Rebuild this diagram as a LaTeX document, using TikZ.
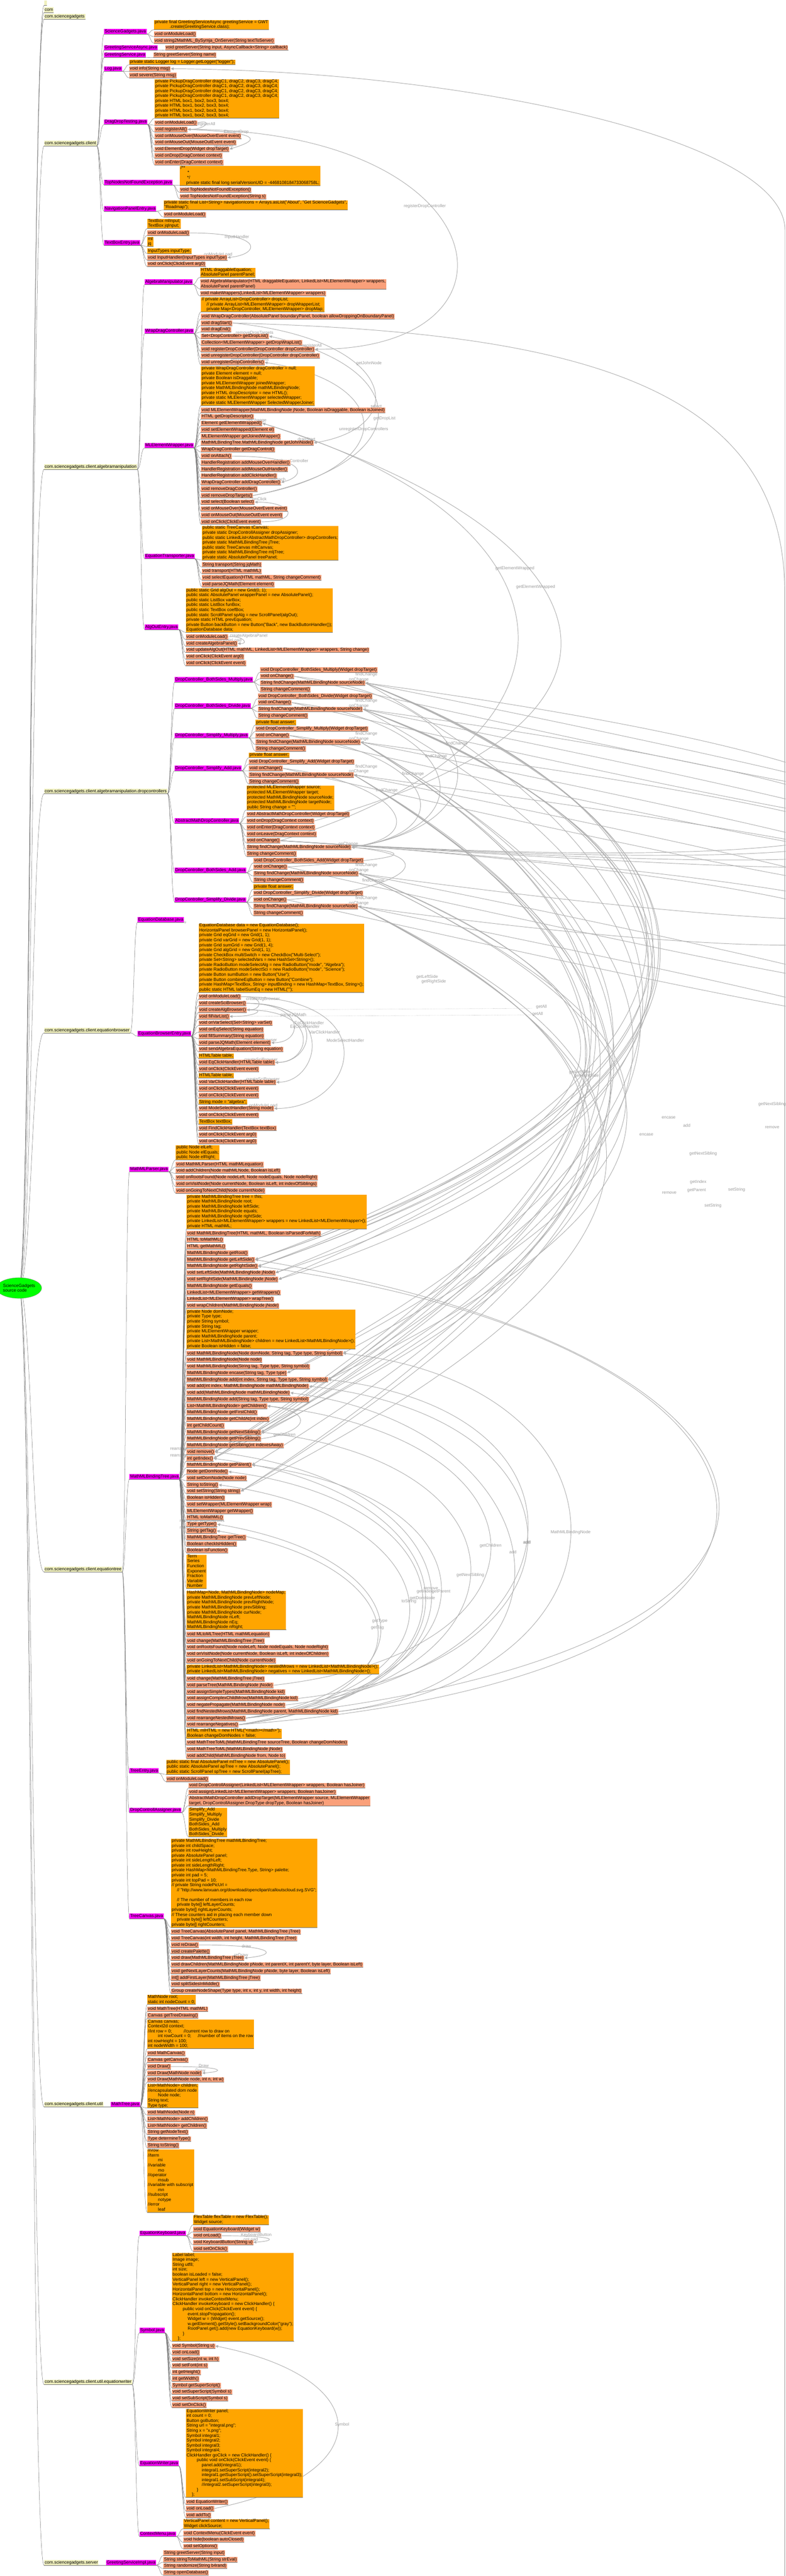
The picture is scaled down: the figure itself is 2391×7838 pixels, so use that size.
\documentclass[tikz,border=0pt]{standalone}
\usepackage{fontspec}
\setmainfont{Liberation Sans}
\usetikzlibrary{arrows.meta,shapes.geometric}
\pgfdeclarelayer{bglayer}
\pgfdeclarelayer{linklayer}
\pgfdeclarelayer{edgelayer}
\pgfsetlayers{bglayer,linklayer,edgelayer,main}
\definecolor{pkgc}{RGB}{240,240,190}
\definecolor{filec}{RGB}{255,0,255}
\definecolor{methc}{RGB}{250,160,122}
\definecolor{fldc}{RGB}{255,165,0}
\definecolor{rootc}{RGB}{0,255,0}
\definecolor{edgec}{RGB}{120,120,120}
\definecolor{linkc}{RGB}{175,175,175}
\definecolor{labc}{RGB}{155,155,155}
\newcommand{\St}{\rule[-4pt]{0pt}{15pt}}
\tikzset{
 base/.style={inner xsep=2pt, inner ysep=0pt, align=left, font=\fontsize{13.3}{15}\selectfont,
   execute at begin node=\St, execute at end node=\St,
   append after command={(\tikzlastnode.south west) edge[draw=black!55, line width=0.8pt] (\tikzlastnode.south east)}},
 pkg/.style={base, fill=pkgc, anchor=west},
 file/.style={base, fill=filec, anchor=west},
 meth/.style={base, fill=methc, anchor=north west},
 fld/.style={base, fill=fldc, anchor=north west},
 tedge/.style={draw=edgec, line width=0.8pt},
 xl/.style={draw=linkc, line width=1.5pt, -{Triangle[length=9pt,width=8pt]}},
 xln/.style={draw=linkc, line width=1.5pt},
 dotl/.style={draw=linkc, line width=1pt, dotted},
 xlab/.style={text=labc, inner sep=0pt, font=\fontsize{13}{15}\selectfont},
}
\makeatletter
\newcommand{\edgelist}{}
\newcommand{\addedge}[2]{\g@addto@macro\edgelist{\te{#1}{#2}}}
\newcommand{\addroot}[1]{\g@addto@macro\edgelist{\tr{#1}}}
\makeatother
\newcommand{\te}[2]{\draw[tedge] (#1.south east) .. controls +(11,0) and +(-11,0) .. (#2.south west);}
\newcommand{\tr}[1]{\draw[tedge] (root.center) .. controls +(38,0) and +(-38,0) .. (#1.south west);}
\newcommand{\pk}[3]{\node[pkg] (#1) at (134,#2) {#3}; \path (#1.east) ++(22,0) coordinate (#1X); \addroot{#1}}
\newcommand{\fl}[4]{\node[file] (#1) at (#2X |- 0,#3) {#4}; \path (#1.east) ++(22,0) coordinate (#1X); \addedge{#2}{#1}}
\newcommand{\me}[4]{\node[meth] (#1) at (#2X |- 0,#3) {#4}; \addedge{#2}{#1}}
\newcommand{\fd}[4]{\node[fld] (#1) at (#2X |- 0,#3) {#4}; \addedge{#2}{#1}}
\newcommand{\xl}[4]{\draw[xl] (#1.east) .. controls +(#3) and +(#4) .. (#2.east);}
\newcommand{\xm}[5]{\draw[xl] (#1.east) .. controls +(#3,-100) and +(#3,100) .. (#2.east) node[xlab,pos=0.5] (#5) {#4};}
\begin{document}
\begin{tikzpicture}[x=1pt,y=-1pt]
\useasboundingbox (0,0) rectangle (2391,7838);
\node[ellipse, fill=rootc, draw=black!45, line width=0.6pt, minimum width=112pt, minimum height=63pt, inner sep=0pt, align=left, font=\fontsize{13.3}{15}\selectfont] (root) at (58,3919) {ScienceGadgets\\source code};
% packages
\node[pkg, minimum width=8pt] (pa) at (134,9) {}; \addroot{pa}
\pk{pb}{30}{com}
\pk{pc}{50}{com.sciencegadgets}
\pk{pd}{436}{com.sciencegadgets.client}
\pk{pe}{1420}{com.sciencegadgets.client.algebramanipulation}
\pk{pf}{2407.5}{com.sciencegadgets.client.algebramanipulation.dropcontrollers}
\pk{pg}{3135}{com.sciencegadgets.client.equationbrowser}
\pk{ph}{4775}{com.sciencegadgets.client.equationtree}
\pk{pi}{6402.5}{com.sciencegadgets.client.util}
\pk{pj}{7247.5}{com.sciencegadgets.client.util.equationwriter}
\pk{pk}{7797.5}{com.sciencegadgets.server}
% client files
\fl{fsg}{pd}{96}{ScienceGadgets.java}
\fl{fgsa}{pd}{145}{GreetingServiceAsync.java}
\fl{fgs}{pd}{167}{GreetingService.java}
\fl{flog}{pd}{209}{Log.java}
\fl{fddt}{pd}{371}{DragDropTesting.java}
\fl{ftnn}{pd}{555}{TopNodesNotFoundException.java}
\fl{fnpe}{pd}{635}{NavigationPanelEntry.java}
\fl{ftbe}{pd}{738.5}{TextBoxEntry.java}
\fd{sga}{fsg}{61}{private final GreetingServiceAsync greetingService = GWT\\\hspace*{46pt}.create(GreetingService.class);}
\me{sgb}{fsg}{96}{void onModuleLoad()}
\me{sgc}{fsg}{116}{void string2MathML\_BySymja\_OnServer(String textToServer)}
\me{gsaa}{fgsa}{137.5}{void greetServer(String input, AsyncCallback<String> callback)}
\me{gsb}{fgs}{159.5}{String greetServer(String name)}
\fd{loga}{flog}{181.5}{private static Logger log = Logger.getLogger("logger");}
\me{logb}{flog}{201.5}{void info(String msg)}
\me{logc}{flog}{221.5}{void severe(String msg)}
\fd{ddta}{fddt}{241}{private PickupDragController dragC1, dragC2, dragC3, dragC4;\\private PickupDragController dragC1, dragC2, dragC3, dragC4;\\private PickupDragController dragC1, dragC2, dragC3, dragC4;\\private PickupDragController dragC1, dragC2, dragC3, dragC4;\\private HTML box1, box2, box3, box4;\\private HTML box1, box2, box3, box4;\\private HTML box1, box2, box3, box4;\\private HTML box1, box2, box3, box4;}
\me{ddtb}{fddt}{366}{void onModuleLoad()}
\me{ddtc}{fddt}{386}{void registerAll()}
\me{ddtd}{fddt}{406}{void onMouseOver(MouseOverEvent event)}
\me{ddte}{fddt}{426}{void onMouseOut(MouseOutEvent event)}
\me{ddtf}{fddt}{446}{void ElementDrop(Widget dropTarget)}
\me{ddtg}{fddt}{466}{void onDrop(DragContext context)}
\me{ddth}{fddt}{486}{void onEnter(DragContext context)}
\fd{tnna}{ftnn}{505}{/**\\\hspace*{21pt}*\\\hspace*{20pt}*/\\\hspace*{17pt}private static final long serialVersionUID = -4468108184733068758L;}
\me{tnnb}{ftnn}{570}{void TopNodesNotFoundException()}
\me{tnnc}{ftnn}{590}{void TopNodesNotFoundException(String s)}
\fd{npea}{fnpe}{610}{private static final List<String> navigationIcons = Arrays.asList("About", "Get ScienceGadgets",\\"Roadmap");}
\me{npeb}{fnpe}{645}{void onModuleLoad()}
\fd{tbea}{ftbe}{666}{TextBox mlInput;\\TextBox jqInput;}
\me{tbeb}{ftbe}{701}{void onModuleLoad()}
\fd{tbec}{ftbe}{721}{ml\\jq}
\fd{tbed}{ftbe}{756}{InputTypes inputType;}
\me{tbee}{ftbe}{776}{void InputHandler(InputTypes inputType)}
\me{tbef}{ftbe}{796}{void onClick(ClickEvent arg0)}
% algebramanipulation
\fl{fam}{pe}{857.5}{AlgebraManipulator.java}
\fl{fwdc}{pe}{1007.5}{WrapDragController.java}
\fl{fmlw}{pe}{1355}{MLElementWrapper.java}
\fl{fet}{pe}{1692.5}{EquationTransporter.java}
\fl{faoe}{pe}{1907.5}{AlgOutEntry.java}
\fd{ama}{fam}{815}{HTML draggableEquation;\\AbsolutePanel parentPanel;}
\me{amb}{fam}{850}{void AlgebraManipulator(HTML draggableEquation, LinkedList<MLElementWrapper> wrappers,\\AbsolutePanel parentPanel)}
\me{amc}{fam}{885}{void makeWrappers(LinkedList<MLElementWrapper> wrappers)}
\fd{wdca}{fwdc}{905}{// private ArrayList<DropController> dropList;\\\hspace*{15pt}// private ArrayList<MLElementWrapper> dropWrapperList;\\\hspace*{15pt}private Map<DropController, MLElementWrapper> dropMap;}
\me{wdcb}{fwdc}{955}{void WrapDragController(AbsolutePanel boundaryPanel, boolean allowDroppingOnBoundaryPanel)}
\me{wdcc}{fwdc}{975}{void dragStart()}
\me{wdcd}{fwdc}{995}{void dragEnd()}
\me{wdce}{fwdc}{1015}{Set<DropController> getDropList()}
\me{wdcf}{fwdc}{1035}{Collection<MLElementWrapper> getDropWrapList()}
\me{wdcg}{fwdc}{1055}{void registerDropController(DropController dropController)}
\me{wdch}{fwdc}{1075}{void unregisterDropController(DropController dropController)}
\me{wdci}{fwdc}{1095}{void unregisterDropControllers()}
\fd{mlwa}{fmlw}{1115}{private WrapDragController dragController = null;\\private Element element = null;\\private Boolean isDraggable;\\private MLElementWrapper joinedWrapper;\\private MathMLBindingNode mathMLBindingNode;\\private HTML dropDescriptor = new HTML();\\private static MLElementWrapper selectedWrapper;\\private static MLElementWrapper SelectedWrapperJoiner;}
\me{mlw1}{fmlw}{1240}{void MLElementWrapper(MathMLBindingNode jNode, Boolean isDraggable, Boolean isJoined)}
\me{mlw2}{fmlw}{1260}{HTML getDropDescriptor()}
\me{mlw3}{fmlw}{1280}{Element getElementWrapped()}
\me{mlw4}{fmlw}{1300}{void setElementWrapped(Element el)}
\me{mlw5}{fmlw}{1320}{MLElementWrapper getJoinedWrapper()}
\me{mlw6}{fmlw}{1340}{MathMLBindingTree.MathMLBindingNode getJohnNode()}
\me{mlw7}{fmlw}{1360}{WrapDragController getDragControl()}
\me{mlw8}{fmlw}{1380}{void onAttach()}
\me{mlw9}{fmlw}{1400}{HandlerRegistration addMouseOverHandler()}
\me{mlw10}{fmlw}{1420}{HandlerRegistration addMouseOutHandler()}
\me{mlw11}{fmlw}{1440}{HandlerRegistration addClickHandler()}
\me{mlw12}{fmlw}{1460}{WrapDragController addDragController()}
\me{mlw13}{fmlw}{1480}{void removeDragController()}
\me{mlw14}{fmlw}{1500}{void removeDropTargets()}
\me{mlw15}{fmlw}{1520}{void select(Boolean select)}
\me{mlw16}{fmlw}{1540}{void onMouseOver(MouseOverEvent event)}
\me{mlw17}{fmlw}{1560}{void onMouseOut(MouseOutEvent event)}
\me{mlw18}{fmlw}{1580}{void onClick(ClickEvent event)}
\fd{eta}{fet}{1600}{public static TreeCanvas tCanvas;\\private static DropControllAssigner dropAssigner;\\public static LinkedList<AbstractMathDropController> dropControllers;\\private static MathMLBindingTree jTree;\\public static TreeCanvas mltCanvas;\\private static MathMLBindingTree mljTree;\\private static AbsolutePanel treePanel;}
\me{etb}{fet}{1710}{String transport(String jqMath)}
\me{etc}{fet}{1730}{void transport(HTML mathML)}
\me{etd}{fet}{1750}{void selectEquation(HTML mathML, String changeComment)}
\me{ete}{fet}{1770}{void parseJQMath(Element element)}
\fd{aoea}{faoe}{1790}{public static Grid algOut = new Grid(0, 1);\\public static AbsolutePanel wrapperPanel = new AbsolutePanel();\\public static ListBox varBox;\\public static ListBox funBox;\\public static TextBox coefBox;\\public static ScrollPanel spAlg = new ScrollPanel(algOut);\\private static HTML prevEquation;\\private Button backButton = new Button("Back", new BackButtonHandler());\\EquationDatabase data;}
\me{aoeb}{faoe}{1930}{void onModuleLoad()}
\me{aoec}{faoe}{1950}{void createAlgebraPanel()}
\me{aoed}{faoe}{1970}{void updateAlgOut(HTML mathML, LinkedList<MLElementWrapper> wrappers, String change)}
\me{aoee}{faoe}{1990}{void onClick(ClickEvent arg0)}
\me{aoef}{faoe}{2010}{void onClick(ClickEvent event)}
% dropcontrollers
\fl{fbsm}{pf}{2067.5}{DropController\_BothSides\_Multiply.java}
\fl{fbsd}{pf}{2147.5}{DropController\_BothSides\_Divide.java}
\fl{fsm}{pf}{2237.5}{DropController\_Simplify\_Multiply.java}
\fl{fsa}{pf}{2337.5}{DropController\_Simplify\_Add.java}
\fl{famd}{pf}{2497.5}{AbstractMathDropController.java}
\fl{fbsa}{pf}{2647.5}{DropController\_BothSides\_Add.java}
\fl{fsd}{pf}{2737.5}{DropController\_Simplify\_Divide.java}
\me{bsmc}{fbsm}{2030}{void DropController\_BothSides\_Multiply(Widget dropTarget)}
\me{bsmo}{fbsm}{2050}{void onChange()}
\me{bsmf}{fbsm}{2070}{String findChange(MathMLBindingNode sourceNode)}
\me{bsmm}{fbsm}{2090}{String changeComment()}
\me{bsdc}{fbsd}{2110}{void DropController\_BothSides\_Divide(Widget dropTarget)}
\me{bsdo}{fbsd}{2130}{void onChange()}
\me{bsdf}{fbsd}{2150}{String findChange(MathMLBindingNode sourceNode)}
\me{bsdm}{fbsd}{2170}{String changeComment()}
\fd{sma}{fsm}{2190}{private float answer;}
\me{smc}{fsm}{2210}{void DropController\_Simplify\_Multiply(Widget dropTarget)}
\me{smo}{fsm}{2230}{void onChange()}
\me{smf}{fsm}{2250}{String findChange(MathMLBindingNode sourceNode)}
\me{smm}{fsm}{2270}{String changeComment()}
\fd{saa}{fsa}{2290}{private float answer;}
\me{sac}{fsa}{2310}{void DropController\_Simplify\_Add(Widget dropTarget)}
\me{sao}{fsa}{2330}{void onChange()}
\me{saf}{fsa}{2350}{String findChange(MathMLBindingNode sourceNode)}
\me{sam}{fsa}{2370}{String changeComment()}
\fd{amda}{famd}{2390}{protected MLElementWrapper source;\\protected MLElementWrapper target;\\protected MathMLBindingNode sourceNode;\\protected MathMLBindingNode targetNode;\\public String change = "";}
\me{amdc}{famd}{2470}{void AbstractMathDropController(Widget dropTarget)}
\me{amdd}{famd}{2490}{void onDrop(DragContext context)}
\me{amde}{famd}{2510}{void onEnter(DragContext context)}
\me{amdl}{famd}{2530}{void onLeave(DragContext context)}
\me{amdo}{famd}{2550}{void onChange()}
\me{amdf}{famd}{2570}{String findChange(MathMLBindingNode sourceNode)}
\me{amdm}{famd}{2590}{String changeComment()}
\me{bsac}{fbsa}{2610}{void DropController\_BothSides\_Add(Widget dropTarget)}
\me{bsao}{fbsa}{2630}{void onChange()}
\me{bsaf}{fbsa}{2650}{String findChange(MathMLBindingNode sourceNode)}
\me{bsam}{fbsa}{2670}{String changeComment()}
\fd{sda}{fsd}{2690}{private float answer;}
\me{sdc}{fsd}{2710}{void DropController\_Simplify\_Divide(Widget dropTarget)}
\me{sdo}{fsd}{2730}{void onChange()}
\me{sdf}{fsd}{2750}{String findChange(MathMLBindingNode sourceNode)}
\me{sdm}{fsd}{2770}{String changeComment()}
% equationbrowser
\fl{fedb}{pg}{2798}{EquationDatabase.java}
\node[circle, draw=black!55, fill=white, inner sep=0pt, minimum size=6pt] (fold) at ([xshift=3pt]fedb.south east) {};
\fl{febe}{pg}{3145}{EquationBrowserEntry.java}
\fd{ebea}{febe}{2810}{EquationDatabase data = new EquationDatabase();\\HorizontalPanel browserPanel = new HorizontalPanel();\\private Grid eqGrid = new Grid(1, 1);\\private Grid varGrid = new Grid(1, 1);\\private Grid sumGrid = new Grid(1, 4);\\private Grid algGrid = new Grid(1, 1);\\private CheckBox multiSwitch = new CheckBox("Multi-Select");\\private Set<String> selectedVars = new HashSet<String>();\\private RadioButton modeSelectAlg = new RadioButton("mode", "Algebra");\\private RadioButton modeSelectSci = new RadioButton("mode", "Science");\\private Button sumButton = new Button("Use");\\private Button combineEqButton = new Button("Combine");\\private HashMap<TextBox, String> inputBinding = new HashMap<TextBox, String>();\\public static HTML labelSumEq = new HTML("");}
\me{ebe1}{febe}{3025}{void onModuleLoad()}
\me{ebe2}{febe}{3045}{void createSciBrowser()}
\me{ebe3}{febe}{3065}{void createAlgBrowser()}
\me{ebe4}{febe}{3085}{void fillVarList()}
\me{ebe5}{febe}{3105}{void onVarSelect(Set<String> varSet)}
\me{ebe6}{febe}{3125}{void onEqSelect(String equation)}
\me{ebe7}{febe}{3145}{void fillSummary(String equation)}
\me{ebe8}{febe}{3165}{void parseJQMath(Element element)}
\me{ebe9}{febe}{3185}{void sendAlgebraEquation(String equation)}
\fd{ebe10}{febe}{3205}{HTMLTable table;}
\me{ebe11}{febe}{3225}{void EqClickHandler(HTMLTable table)}
\me{ebe12}{febe}{3245}{void onClick(ClickEvent event)}
\fd{ebe13}{febe}{3265}{HTMLTable table;}
\me{ebe14}{febe}{3285}{void VarClickHandler(HTMLTable table)}
\me{ebe15}{febe}{3305}{void onClick(ClickEvent event)}
\me{ebe16}{febe}{3325}{void onClick(ClickEvent event)}
\fd{ebe17}{febe}{3345}{String mode = "algebra";}
\me{ebe18}{febe}{3365}{void ModeSelectHandler(String mode)}
\me{ebe19}{febe}{3385}{void onClick(ClickEvent event)}
\fd{ebe20}{febe}{3405}{TextBox textBox;}
\me{ebe21}{febe}{3425}{void FindClickHandler(TextBox textBox)}
\me{ebe22}{febe}{3445}{void onClick(ClickEvent arg0)}
\me{ebe23}{febe}{3465}{void onClick(ClickEvent arg0)}
% equationtree
\fl{fmp}{ph}{3557.5}{MathMLParser.java}
\fl{fmbt}{ph}{4492.5}{MathMLBindingTree.java}
\fl{fte}{ph}{5387.5}{TreeEntry.java}
\fl{fdca}{ph}{5507.5}{DropControllAssigner.java}
\fl{ftc}{ph}{5830}{TreeCanvas.java}
\fd{mpa}{fmp}{3485}{public Node elLeft;\\public Node elEquals;\\public Node elRight;}
\me{mpb}{fmp}{3535}{void MathMLParser(HTML mathMLequation)}
\me{mpc}{fmp}{3555}{void addChildren(Node mathMLNode, Boolean isLeft)}
\me{mpd}{fmp}{3575}{void onRootsFound(Node nodeLeft, Node nodeEquals, Node nodeRight)}
\me{mpe}{fmp}{3595}{void onVisitNode(Node currentNode, Boolean isLeft, int indexOfSiblings)}
\me{mpf}{fmp}{3615}{void onGoingToNextChild(Node currentNode)}
\fd{ta}{fmbt}{3635}{private MathMLBindingTree tree = this;\\private MathMLBindingNode root;\\private MathMLBindingNode leftSide;\\private MathMLBindingNode equals;\\private MathMLBindingNode rightSide;\\private LinkedList<MLElementWrapper> wrappers = new LinkedList<MLElementWrapper>();\\private HTML mathML;}
\me{t1}{fmbt}{3745}{void MathMLBindingTree(HTML mathML, Boolean isParsedForMath)}
\me{t2}{fmbt}{3765}{HTML toMathML()}
\me{t3}{fmbt}{3785}{HTML getMathML()}
\me{t4}{fmbt}{3805}{MathMLBindingNode getRoot()}
\me{t5}{fmbt}{3825}{MathMLBindingNode getLeftSide()}
\me{t6}{fmbt}{3845}{MathMLBindingNode getRightSide()}
\me{t7}{fmbt}{3865}{void setLeftSide(MathMLBindingNode jNode)}
\me{t8}{fmbt}{3885}{void setRightSide(MathMLBindingNode jNode)}
\me{t9}{fmbt}{3905}{MathMLBindingNode getEquals()}
\me{t10}{fmbt}{3925}{LinkedList<MLElementWrapper> getWrappers()}
\me{t11}{fmbt}{3945}{LinkedList<MLElementWrapper> wrapTree()}
\me{t12}{fmbt}{3965}{void wrapChildren(MathMLBindingNode jNode)}
\fd{na}{fmbt}{3985}{private Node domNode;\\private Type type;\\private String symbol;\\private String tag;\\private MLElementWrapper wrapper;\\private MathMLBindingNode parent;\\private List<MathMLBindingNode> children = new LinkedList<MathMLBindingNode>();\\private Boolean isHidden = false;}
\me{n1}{fmbt}{4110}{void MathMLBindingNode(Node domNode, String tag, Type type, String symbol)}
\me{n2}{fmbt}{4130}{void MathMLBindingNode(Node node)}
\me{n3}{fmbt}{4150}{void MathMLBindingNode(String tag, Type type, String symbol)}
\me{n4}{fmbt}{4170}{MathMLBindingNode encase(String tag, Type type)}
\me{n5}{fmbt}{4190}{MathMLBindingNode add(int index, String tag, Type type, String symbol)}
\me{n6}{fmbt}{4210}{void add(int index, MathMLBindingNode mathMLBindingNode)}
\me{n7}{fmbt}{4230}{void add(MathMLBindingNode mathMLBindingNode)}
\me{n8}{fmbt}{4250}{MathMLBindingNode add(String tag, Type type, String symbol)}
\me{n9}{fmbt}{4270}{List<MathMLBindingNode> getChildren()}
\me{n10}{fmbt}{4290}{MathMLBindingNode getFirstChild()}
\me{n11}{fmbt}{4310}{MathMLBindingNode getChildAt(int index)}
\me{n12}{fmbt}{4330}{int getChildCount()}
\me{n13}{fmbt}{4350}{MathMLBindingNode getNextSibling()}
\me{n14}{fmbt}{4370}{MathMLBindingNode getPrevSibling()}
\me{n15}{fmbt}{4390}{MathMLBindingNode getSibling(int indexesAway)}
\me{n16}{fmbt}{4410}{void remove()}
\me{n17}{fmbt}{4430}{int getIndex()}
\me{n18}{fmbt}{4450}{MathMLBindingNode getParent()}
\me{n19}{fmbt}{4470}{Node getDomNode()}
\me{n20}{fmbt}{4490}{void setDomNode(Node node)}
\me{n21}{fmbt}{4510}{String toString()}
\me{n22}{fmbt}{4530}{void setString(String string)}
\me{n23}{fmbt}{4550}{Boolean isHidden()}
\me{n24}{fmbt}{4570}{void setWrapper(MLElementWrapper wrap)}
\me{n25}{fmbt}{4590}{MLElementWrapper getWrapper()}
\me{n26}{fmbt}{4610}{HTML toMathML()}
\me{n27}{fmbt}{4630}{Type getType()}
\me{n28}{fmbt}{4650}{String getTag()}
\me{n29}{fmbt}{4670}{MathMLBindingTree getTree()}
\me{n30}{fmbt}{4690}{Boolean checkIsHidden()}
\me{n31}{fmbt}{4710}{Boolean isFunction()}
\fd{ea}{fmbt}{4730}{Term\\Series\\Function\\Exponent\\Fraction\\Variable\\Number}
\fd{ha}{fmbt}{4840}{HashMap<Node, MathMLBindingNode> nodeMap;\\private MathMLBindingNode prevLeftNode;\\private MathMLBindingNode prevRightNode;\\private MathMLBindingNode prevSibling;\\private MathMLBindingNode curNode;\\MathMLBindingNode nLeft;\\MathMLBindingNode nEq;\\MathMLBindingNode nRight;}
\me{h1}{fmbt}{4965}{void MLtoMLTree(HTML mathMLequation)}
\me{h2}{fmbt}{4985}{void change(MathMLBindingTree jTree)}
\me{h3}{fmbt}{5005}{void onRootsFound(Node nodeLeft, Node nodeEquals, Node nodeRight)}
\me{h4}{fmbt}{5025}{void onVisitNode(Node currentNode, Boolean isLeft, int indexOfChildren)}
\me{h5}{fmbt}{5045}{void onGoingToNextChild(Node currentNode)}
\fd{ra}{fmbt}{5065}{private LinkedList<MathMLBindingNode> nestedMrows = new LinkedList<MathMLBindingNode>();\\private LinkedList<MathMLBindingNode> negatives = new LinkedList<MathMLBindingNode>();}
\me{r1}{fmbt}{5100}{void change(MathMLBindingTree jTree)}
\me{r2}{fmbt}{5120}{void parseTree(MathMLBindingNode jNode)}
\me{r3}{fmbt}{5140}{void assignSimpleTypes(MathMLBindingNode kid)}
\me{r4}{fmbt}{5160}{void assignComplexChildMrow(MathMLBindingNode kid)}
\me{r5}{fmbt}{5180}{void negatePropagate(MathMLBindingNode node)}
\me{r6}{fmbt}{5200}{void findNestedMrows(MathMLBindingNode parent, MathMLBindingNode kid)}
\me{r7}{fmbt}{5220}{void rearrangeNestedMrows()}
\me{r8}{fmbt}{5240}{void rearrangeNegatives()}
\fd{ma}{fmbt}{5260}{HTML mlHTML = new HTML("<math></math>");\\Boolean changeDomNodes = false;}
\me{m1}{fmbt}{5295}{void MathTreeToML(MathMLBindingTree sourceTree, Boolean changeDomNodes)}
\me{m2}{fmbt}{5315}{void MathTreeToML(MathMLBindingNode jNode)}
\me{m3}{fmbt}{5335}{void addChild(MathMLBindingNode from, Node to)}
\fd{tea}{fte}{5355}{public static final AbsolutePanel mlTree = new AbsolutePanel();\\public static AbsolutePanel apTree = new AbsolutePanel();\\public static ScrollPanel spTree = new ScrollPanel(apTree);}
\me{teb}{fte}{5405}{void onModuleLoad()}
\me{dcab}{fdca}{5425}{void DropControllAssigner(LinkedList<MLElementWrapper> wrappers, Boolean hasJoiner)}
\me{dcac}{fdca}{5445}{void assign(LinkedList<MLElementWrapper> wrappers, Boolean hasJoiner)}
\me{dcad}{fdca}{5465}{AbstractMathDropController addDropTarget(MLElementWrapper source, MLElementWrapper\\target, DropControllAssigner.DropType dropType, Boolean hasJoiner)}
\fd{dcae}{fdca}{5500}{Simplify\_Add\\Simplify\_Multiply\\Simplify\_Divide\\BothSides\_Add\\BothSides\_Multiply\\BothSides\_Divide}
\fd{tca}{ftc}{5595}{private MathMLBindingTree mathMLBindingTree;\\private int childSpace;\\private int rowHeight;\\private AbsolutePanel panel;\\private int sideLengthLeft;\\private int sideLengthRight;\\private HashMap<MathMLBindingTree.Type, String> palette;\\private int pad = 5;\\private int topPad = 10;\\// private String nodePicUrl =\\\hspace*{16pt}// "http://www.lanxuan.org/download/openclipart/calloutscloud.svg.SVG";\\\mbox{}\\\hspace*{16pt}// The number of members in each row\\\hspace*{16pt}private byte[] leftLayerCounts;\\private byte[] rightLayerCounts;\\// These counters aid in placing each member down\\\hspace*{16pt}private byte[] leftCounters;\\private byte[] rightCounters;}
\me{tc1}{ftc}{5870}{void TreeCanvas(AbsolutePanel panel, MathMLBindingTree jTree)}
\me{tc2}{ftc}{5890}{void TreeCanvas(int width, int height, MathMLBindingTree jTree)}
\me{tc3}{ftc}{5910}{void reDraw()}
\me{tc4}{ftc}{5930}{void createPalette()}
\me{tc5}{ftc}{5950}{void draw(MathMLBindingTree jTree)}
\me{tc6}{ftc}{5970}{void drawChildren(MathMLBindingNode pNode, int parentX, int parentY, byte layer, Boolean isLeft)}
\me{tc7}{ftc}{5990}{void getNextLayerCounts(MathMLBindingNode pNode, byte layer, Boolean isLeft)}
\me{tc8}{ftc}{6010}{int[] addFirstLayer(MathMLBindingTree jTree)}
\me{tc9}{ftc}{6030}{void splitSidesInMiddle()}
\me{tc10}{ftc}{6050}{Group createNodeShape(Type type, int x, int y, int width, int height)}
% util
\fl{fmt}{pi}{6402.5}{MathTree.java}
\fd{mta}{fmt}{6070}{MathNode root;\\static int nodeCount = 0;}
\me{mtb}{fmt}{6105}{void MathTree(HTML mathML)}
\me{mtc}{fmt}{6125}{Canvas getTreeDrawing()}
\fd{mtd}{fmt}{6145}{Canvas canvas;\\Context2d context;\\//int row = 0;\hspace*{36pt}//current row to draw on\\\hspace*{31pt}int rowCount = 0;\hspace*{20pt}//number of items on the row\\int rowHeight = 100;\\int nodeWidth = 100;}
\me{mte}{fmt}{6240}{void MathCanvas()}
\me{mtf}{fmt}{6260}{Canvas getCanvas()}
\me{mtg}{fmt}{6280}{void Draw()}
\me{mth}{fmt}{6300}{void Draw(MathNode node)}
\me{mti}{fmt}{6320}{void Draw(MathNode node, int n, int w)}
\fd{mtj}{fmt}{6340}{List<MathNode> children;\\//encapsulated dom node\\\hspace*{31pt}Node node;\\String text;\\Type type;}
\me{mtk}{fmt}{6420}{void MathNode(Node n)}
\me{mtl}{fmt}{6440}{List<MathNode> addChildren()}
\me{mtm}{fmt}{6460}{List<MathNode> getChildren()}
\me{mtn}{fmt}{6480}{String getNodeText()}
\me{mto}{fmt}{6500}{Type determineType()}
\me{mtp}{fmt}{6520}{String toString()}
\fd{mtq}{fmt}{6540}{mrow\\//term\\\hspace*{31pt}mi\\//variable\\\hspace*{31pt}mo\\//operator\\\hspace*{31pt}msub\\//variable with subscript\\\hspace*{31pt}mn\\//subscript\\\hspace*{31pt}notype\\//error\\\hspace*{31pt}leaf}
% equationwriter
\fl{fek}{pj}{6795}{EquationKeyboard.java}
\fl{fsy}{pj}{7090}{Symbol.java}
\fl{few}{pj}{7495}{EquationWriter.java}
\fl{fcm}{pj}{7710}{ContextMenu.java}
\fd{eka}{fek}{6740}{FlexTable flexTable = new FlexTable();\\Widget source;}
\me{ekb}{fek}{6775}{void EquationKeyboard(Widget w)}
\me{ekc}{fek}{6795}{void onLoad()}
\me{ekd}{fek}{6815}{void KeyboardButton(String u)}
\me{eke}{fek}{6835}{void setOnClick()}
\fd{sya}{fsy}{6855}{Label label;\\Image image;\\String utf8;\\int size;\\boolean isLoaded = false;\\VerticalPanel left = new VerticalPanel();\\VerticalPanel right = new VerticalPanel();\\HorizontalPanel top = new HorizontalPanel();\\HorizontalPanel bottom = new HorizontalPanel();\\ClickHandler invokeContextMenu;\\ClickHandler invokeKeyboard = new ClickHandler() \{\\\hspace*{31pt}public void onClick(ClickEvent event) \{\\\hspace*{46pt}event.stopPropagation();\\\hspace*{46pt}Widget w = (Widget) event.getSource();\\\hspace*{46pt}w.getElement().getStyle().setBackgroundColor("gray");\\\hspace*{46pt}RootPanel.get().add(new EquationKeyboard(w));\\\hspace*{31pt}\}\\\hspace*{16pt}\};}
\me{syb}{fsy}{7130}{void Symbol(String u)}
\me{syc}{fsy}{7150}{void onLoad()}
\me{syd}{fsy}{7170}{void setSize(int w, int h)}
\me{sye}{fsy}{7190}{void setFont(int s)}
\me{syf}{fsy}{7210}{int getHeight()}
\me{syg}{fsy}{7230}{int getWidth()}
\me{syh}{fsy}{7250}{Symbol getSuperScript()}
\me{syi}{fsy}{7270}{void setSuperScript(Symbol s)}
\me{syj}{fsy}{7290}{void setSubScript(Symbol s)}
\me{syk}{fsy}{7310}{void setOnClick()}
\fd{ewa}{few}{7330}{EquationWriter panel;\\int count = 0;\\Button goButton;\\String url = "integral.png";\\String x = "x.png";\\Symbol integral1;\\Symbol integral2;\\Symbol integral3;\\Symbol integral4;\\ClickHandler goClick = new ClickHandler() \{\\\hspace*{31pt}public void onClick(ClickEvent event) \{\\\hspace*{46pt}panel.add(integral1);\\\hspace*{46pt}integral1.setSuperScript(integral2);\\\hspace*{46pt}integral1.getSuperScript().setSuperScript(integral3);\\\hspace*{46pt}integral1.setSubScript(integral4);\\\hspace*{46pt}//integral2.setSuperScript(integral3);\\\hspace*{31pt}\}\\\hspace*{16pt}\};}
\me{ewb}{few}{7605}{void EquationWriter()}
\me{ewc}{few}{7625}{void onLoad()}
\me{ewd}{few}{7645}{void addTo()}
\fd{cma}{fcm}{7665}{VerticalPanel content = new VerticalPanel();\\Widget clickSource;}
\me{cmb}{fcm}{7700}{void ContextMenu(ClickEvent event)}
\me{cmc}{fcm}{7720}{void hide(boolean autoClosed)}
\me{cmd}{fcm}{7740}{void setOptions()}
% server
\fl{fgsi}{pk}{7797.5}{GreetingServiceImpl.java}
\me{gsia}{fgsi}{7760}{String greetServer(String input)}
\me{gsib}{fgsi}{7780}{String stringToMathML(String strEval)}
\me{gsic}{fgsi}{7800}{String randomize(String b4rand)}
\me{gsid}{fgsi}{7820}{String openDatabase()}
% ===== background, tree edges =====
\begin{pgfonlayer}{bglayer}\fill[white] (0,0) rectangle (2391,7838);\end{pgfonlayer}
\begin{pgfonlayer}{edgelayer}\edgelist\end{pgfonlayer}
% ===== cross links =====
\begin{pgfonlayer}{linklayer}
\clip (0,0) rectangle (2391,7838);
\coordinate (offA) at (2389,7950);
\coordinate (offB) at (2388,7950);
\draw[xl] (offA) -- (2389,700) .. controls (2389,420) and (1400,215) .. (logb.east);
\draw[xln] (wdcc.east) .. controls (1700,1010) and (2388,1150) .. (2388,1800) -- (offB);
\xl{ddtb}{ddtc}{50,-12}{55,0}
\node[xlab] (lb1) at (626,378) {registerAll};
\xl{ddtc}{ddtf}{220,10}{100,-30}
\node[xlab] (lb2) at (719,402) {ElementDrop};
\node[xlab] (lb3) at (681,444) {registerAll};
\xl{ddtc}{wdcg}{950,0}{680,0}
\node[xlab] (lb4) at (1293,627) {registerDropController};
\node[xlab] (lb5) at (950,1053) {registerAll};
\xl{tbeb}{tbee}{230,0}{100,-10}
\node[xlab] (lb6) at (721,721) {InputHandler};
\node[xlab] (lb7) at (664,773) {onModuleLoad};
\xl{aoeb}{aoec}{45,-5}{35,2}
\node[xlab] (lb8) at (757,1935) {createAlgebraPanel};
\node[xlab] (lb9) at (692,1948) {onModuleLoad};
\xl{wdcc}{mlw6}{500,50}{300,-50}
\node[xlab] (lb10) at (1123,1105) {getJohnNode};
\node[xlab] (lb11) at (933,1338) {dragStart};
\xl{mlw14}{wdce}{500,-100}{450,100}
\node[xlab] (lb12) at (1170,1273) {getDropList};
\node[xlab] (lb13) at (775,1013) {removeDropTargets};
\xl{mlw14}{wdci}{450,-80}{400,60}
\node[xlab] (lb14) at (1107,1307) {unregisterDropControllers};
\node[xlab] (lb15) at (761,1095) {removeDropTargets};
\xl{mlw8}{mlw12}{230,0}{80,-20}
\node[xlab] (lb16) at (885,1403) {addDragController};
\node[xlab] (lb17) at (843,1458) {onAttach};
\xl{mlw18}{mlw15}{120,0}{120,0}
\node[xlab] (lb18) at (790,1519) {onClick};
\node[xlab] (lb18b) at (1145,1236) {select};
\xl{amdo}{mlw3}{1000,-300}{1000,300}
\node[xlab] (lb19) at (1567,1729) {getElementWrapped};
\node[xlab] (lb20) at (781,1279) {onChange};
\xl{amdd}{mlw3}{1100,-300}{1100,350}
\node[xlab] (lb21) at (1630,1786) {getElementWrapped};
% dropcontroller loops
\xl{bsmo}{bsmf}{2200,500}{2100,420}
\xl{bsdo}{bsdf}{2200,500}{2100,420}
\xl{smo}{smf}{2200,500}{2100,420}
\xl{sao}{saf}{2200,500}{2100,420}
\xl{bsao}{bsaf}{2200,500}{2100,420}
\xl{sdo}{sdf}{2200,500}{2100,420}
\node[xlab] (lc1) at (1115,2053) {findChange};
\node[xlab] (lc2) at (1115,2133) {findChange};
\node[xlab] (lc3) at (1115,2233) {findChange};
\node[xlab] (lc4) at (1115,2333) {findChange};
\node[xlab] (lc5) at (1115,2633) {findChange};
\node[xlab] (lc6) at (1115,2733) {findChange};
\node[xlab] (ld1) at (1092,2068) {onChange};
\node[xlab] (ld2) at (1092,2148) {onChange};
\node[xlab] (ld3) at (1092,2248) {onChange};
\node[xlab] (ld4) at (1092,2348) {onChange};
\node[xlab] (ld5) at (1092,2648) {onChange};
\node[xlab] (ld6) at (1092,2748) {onChange};
\node[xlab] (ld7) at (1060,2568) {onChange};
\xl{bsmo}{amdf}{600,70}{480,-70}
\xl{bsdo}{amdf}{520,60}{420,-60}
\xl{smo}{amdf}{430,50}{350,-50}
\xl{sao}{amdf}{330,40}{260,-40}
\xl{bsao}{amdf}{300,-20}{250,20}
\xl{sdo}{amdf}{350,-30}{300,30}
\node[xlab] (le1) at (1390,2263) {findChange};
\node[xlab] (le2) at (1327,2301) {findChange};
\node[xlab] (le3) at (1257,2355) {findChange};
\node[xlab] (le4) at (1177,2406) {findChange};
\node[xlab] (le5) at (1136,2680) {findChange};
\xl{amdo}{bsmf}{2300,150}{2200,300}
\xl{amdo}{bsdf}{2300,150}{2200,300}
\xl{amdo}{smf}{2300,150}{2200,300}
\xl{amdo}{saf}{2300,150}{2200,300}
\xl{amdo}{bsaf}{2300,150}{2200,300}
\xl{amdo}{sdf}{2300,150}{2200,300}
% dropcontrollers -> binding tree
\xl{bsmf}{t5}{1300,500}{1400,-500}
\xl{bsmf}{t6}{1320,520}{1420,-520}
\xl{bsmf}{t7}{1340,540}{1380,-540}
\xl{bsmf}{t8}{1360,560}{1360,-560}
\xl{bsmf}{n4}{1250,700}{1300,-700}
\xl{bsdf}{t5}{1280,480}{1450,-480}
\xl{bsdf}{t6}{1300,500}{1470,-500}
\xl{bsdf}{t7}{1260,460}{1430,-460}
\xl{bsdf}{t8}{1240,440}{1410,-440}
\xl{bsdf}{n4}{1200,650}{1350,-650}
\xl{smf}{n16}{1150,700}{1250,-800}
\xl{smf}{n17}{1170,720}{1270,-820}
\xl{smf}{n13}{1190,680}{1230,-760}
\xl{smf}{n22}{1210,740}{1290,-840}
\xl{smf}{n5}{1130,660}{1210,-740}
\xl{saf}{n16}{1100,650}{1300,-780}
\xl{saf}{n17}{1120,670}{1320,-800}
\xl{saf}{n18}{1140,690}{1340,-820}
\xl{saf}{n22}{1160,710}{1360,-840}
\xl{saf}{n13}{1080,630}{1280,-760}
\xl{bsaf}{t5}{1000,400}{1200,-400}
\xl{bsaf}{t6}{1020,420}{1220,-420}
\xl{bsaf}{n5}{1050,500}{1250,-600}
\xl{bsaf}{n1}{1080,520}{1150,-620}
\xl{sdf}{n16}{1000,500}{1400,-700}
\xl{sdf}{n17}{1020,520}{1420,-720}
\xl{sdf}{n22}{1040,540}{1440,-740}
\xl{sdf}{n13}{980,480}{1380,-680}
\node[xlab] (lf1) at (1300,2973) {getLeftSide};
\node[xlab] (lf2) at (1320,2987) {getRightSide};
\node[xlab] (lf3) at (1765,3262) {getLeftSide};
\node[xlab] (lf4) at (1785,3274) {getRightSide};
\node[xlab] (lf5) at (1967,3452) {encase};
\node[xlab] (lf6) at (2035,3400) {encase};
\node[xlab] (lf7) at (2090,3425) {add};
\node[xlab] (lf8) at (2140,3510) {getNextSibling};
\node[xlab] (lf9) at (2037,3630) {remove};
\node[xlab] (lf10) at (2125,3597) {getIndex};
\node[xlab] (lf11) at (2120,3622) {getParent};
\node[xlab] (lf12) at (2170,3668) {setString};
\node[xlab] (lf13) at (2242,3620) {setString};
\node[xlab] (lf14) at (2350,3360) {getNextSibling};
\node[xlab] (lf15) at (2350,3430) {remove};
% binding tree internal
\xm{r7}{n27}{602}{getType}{lm1}
\xm{r8}{n28}{608}{getTag}{lm2}
\xm{r7}{n21}{717}{toString}{lm3}
\xm{r8}{n19}{767}{getDomNode}{lm4}
\xm{r7}{n18}{780}{getParent}{lm5}
\xm{r8}{n16}{829}{remove}{lm6}
\xm{r8}{n17}{807}{getIndex}{lm7}
\xm{r7}{n13}{880}{getNextSibling}{lm8}
\xm{r2}{n9}{894}{getChildren}{lm9}
\xm{r6}{n7}{806}{add}{lm10}
\xm{r4}{n6}{908}{add}{lm11}
\xm{r5}{n5}{892}{add}{lm12}
\xm{r6}{n1}{933}{MathMLBindingNode}{lm13}
\xl{r7}{t5}{2000,-200}{1800,300}
\xl{r8}{t6}{2000,-150}{1800,250}
\xl{n14}{n9}{140,-20}{150,20}
\node[xlab] (lg1) at (866,4367) {getChildren};
\node[xlab, anchor=west] (lg2) at (518,4409) {rearrangeNestedMrows};
\node[xlab, anchor=west] (lg3) at (518,4429) {rearrangeNegatives};
\node[xlab, anchor=west] (lg4) at (547,4628) {rearrangeNestedMrows};
\node[xlab, anchor=west] (lg5) at (547,4649) {rearrangeNegatives};
% equation browser
\xl{ebe1}{ebe3}{70,-5}{50,0}
\node[xlab] (lh1) at (800,3040) {createAlgBrowser};
\xl{ebe3}{ebe4}{60,-5}{90,0}
\xl{ebe2}{ebe8}{180,0}{100,0}
\node[xlab] (lh2) at (893,3089) {parseJQMath};
\node[xlab] (lh3) at (792,3164) {createSciBrowser};
\xl{ebe2}{ebe11}{250,0}{120,0}
\node[xlab] (lh4) at (941,3113) {EqClickHandler};
\node[xlab] (lh5) at (794,3223) {createSciBrowser};
\xl{ebe3}{ebe11}{230,0}{110,0}
\node[xlab] (lh6) at (928,3124) {EqClickHandler};
\xl{ebe2}{ebe14}{280,0}{130,0}
\node[xlab] (lh7) at (988,3141) {VarClickHandler};
\node[xlab] (lh8) at (800,3284) {createSciBrowser};
\xl{ebe1}{ebe18}{450,0}{250,0}
\node[xlab] (lh9) at (1051,3166) {ModeSelectHandler};
\node[xlab] (lh10) at (801,3363) {onModuleLoad};
\coordinate (ga1) at (1620,3068);
\coordinate (ga2) at (1620,3088);
\draw[dotl] (ebe3.east) -- (ga1);
\draw[dotl] (ebe4.east) -- (ga2);
\node[xlab] (lh11) at (1648,3063) {getAll};
\node[xlab] (lh12) at (1636,3085) {getAll};
% tree canvas, math tree, keyboard, writer
\xl{tc3}{tc5}{230,0}{110,-10}
\node[xlab] (li1) at (750,5921) {draw};
\node[xlab] (li2) at (734,5949) {reDraw};
\xl{mtg}{mth}{160,0}{75,-5}
\node[xlab] (li3) at (620,6286) {Draw};
\node[xlab] (li4) at (610,6299) {Draw};
\xl{ekc}{ekd}{170,0}{75,-5}
\node[xlab] (li5) at (780,6800) {KeyboardButton};
\node[xlab] (li6) at (763,6813) {onLoad};
\xl{ewc}{syb}{500,-100}{500,100}
\node[xlab] (li7) at (1041,7378) {Symbol};
\end{pgfonlayer}
\end{tikzpicture}
\end{document}
